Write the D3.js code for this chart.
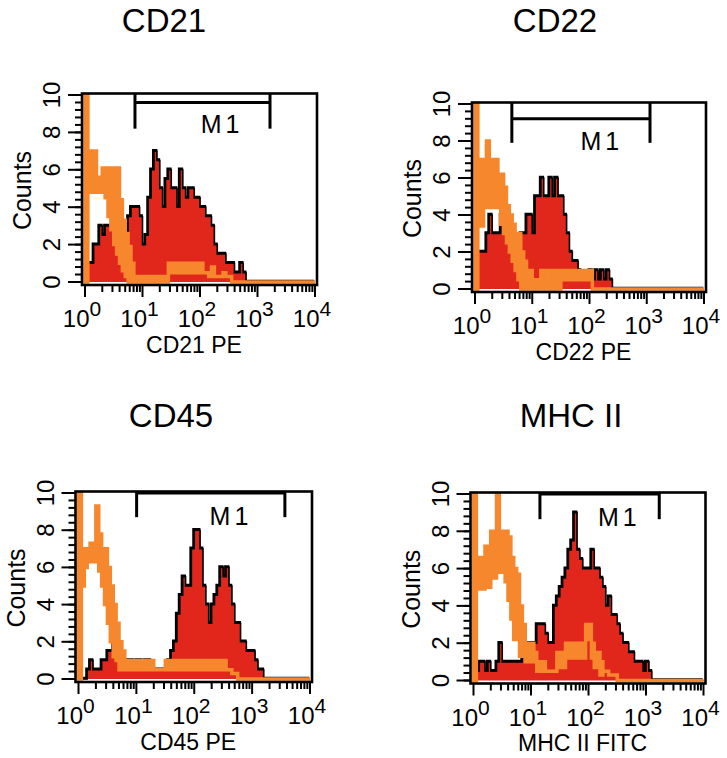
<!DOCTYPE html>
<html><head><meta charset="utf-8">
<script src="https://cdn.jsdelivr.net/npm/d3@7"></script>
<style>body{margin:0;background:#fff} svg{display:block}</style>
</head><body>
<svg id="c" width="727" height="758"></svg>
<script>
// ---------- data ----------
const binsPerDecade = 20;          // histogram channels per log decade (80 bins over 10^0..10^4)
const decades = [0, 1, 2, 3, 4];
const countTicks = [0, 2, 4, 6, 8, 10];
const panelTitles = ["CD21", "CD22", "CD45", "MHC II"];
const axisTitles = ["CD21 PE", "CD22 PE", "CD45 PE", "MHC II FITC"];
const yAxisTitle = "Counts";
const gateName = "M1";

const cd21Sample = [0,1,1,2,2,3,2.5,3,3,3, 3.5,3,2.5,2,2,3.5,4,4,4,3.5, 2,2.5,4.5,6,7,6.5,5,4,5.5,6,
  5,5,4,6,5,4.5,5,5,4.5,4.5, 4,4,3.5,3.5,3,2,1.5,1.5,1.5,1, 1,1,0.5,0.5,1,0.5,0,0,0,0,
  0,0,0,0,0,0,0,0,0,0, 0,0,0,0,0,0,0,0,0,0];
const cd21CtrlHigh = [10.5,7,7,7,5.6,5.6,6.1,5.7,6.1,5.6, 6.1,6.1,4.4,3.3,2.6,1.9,1,0.3,0.3,0.3,
  0.3,0.3,0.3,0.3,0.3,0.3,0.3,0.3,0.3,1, 0.5,1,0.5,1,1,0.5,1,0.5,1,0.5, 1,0.5,0.5,0.3,0.8,0.3,0.3,0.3,0.5,0.3,
  0.3,0,0,0,0,0,0,0,0,0, 0,0,0,0,0,0,0,0,0,0, 0,0,0,0,0,0,0,0,0,0];
const cd21CtrlLow = [0,4.8,4.8,4.8,4.8,4.8,4.8,4.5,3.5,2.8, 2,1.5,1,0.6,0.3,0,0,0,0,0,
  0,0,0,0,0,0,0,0,0,0.5, 0.5,0.5,0.5,0.5,0.5,0.5,0.5,0.5,0.5,0.5, 0.5,0.5,0.5,0.3,0.5,0.3,0.3,0.3,0.5,0.3,
  0.3,0,0,0,0,0,0,0,0,0, 0,0,0,0,0,0,0,0,0,0, 0,0,0,0,0,0,0,0,0,0];

const cd22Sample = [0,2,2,2,3,4,3,3,3,4, 4,3.5,3,2.5,2,1.5,3,3,4,4, 3,5,5,6,5,5,6,5,6,5,
  5,4,3,2,1.5,1.5,1,0.5,0.5,0.5, 1,0.5,1,0.5,1,0.5,1,0.5,0,0, 0,0,0,0,0,0,0,0,0,0,
  0,0,0,0,0,0,0,0,0,0, 0,0,0,0,0,0,0,0,0,0];
const cd22CtrlHigh = [10.5,7,7,7,8,7,7,7,6.2,6.2, 5.5,4.5,4,3.5,3,3,2,1.5,1,1, 0.5,0.5,0.5,1,1,0.5,1,1,0.5,1,
  1,1,1,1,1,1,1,1,1,1, 1,0,0,0,0,0,0,0,0,0, 0,0,0,0,0,0,0,0,0,0,
  0,0,0,0,0,0,0,0,0,0, 0,0,0,0,0,0,0,0,0,0];
const cd22CtrlLow = [0,3.4,3.4,4.4,4.4,4.4,4.4,4.4,4.4,3.5, 3,2.5,2,1.5,1,0.5,0,0,0,0, 0,0,0,0,0,0,0,0,0,0,
  0.5,0.5,0.5,0.5,0.5,0.5,0.5,0.5,0.5,0.5, 0.5,0,0,0,0,0,0,0,0,0, 0,0,0,0,0,0,0,0,0,0,
  0,0,0,0,0,0,0,0,0,0, 0,0,0,0,0,0,0,0,0,0];

const cd45Sample = [0,0,0,0.5,1,0.5,0.5,0.5,1,1, 1.5,1.5,2,1,0.5,0.5,1,1,1,0.5, 1,1,0.5,1,1,0.5,0.5,0.5,0.5,0.5,
  0.5,1,1.5,2,3.5,4.5,5.5,5,5,7, 8,8,7,5,4,3,4,4.5,5,6, 5.5,6,5,4,3,3,2,2,1.5,1.5,
  1.5,1,0.5,0.5,0,0,0,0,0,0, 0,0,0,0,0,0,0,0,0,0];
const cd45CtrlHigh = [10.5,7,7,7,7.3,7.3,9.3,7.8,7,7, 6,5,4,3,2,1.5,1,1,1,1, 1,1,1,1,1,1,0.5,0.5,0.5,0.5,
  1,0.5,1,0.5,1,0.5,1,0.5,1,0.5, 1,0.5,1,0.5,1,0.5,1,0.5,1,0.5, 1,0.5,0.5,0.3,0.3,0,0,0,0,0,
  0,0,0,0,0,0,0,0,0,0, 0,0,0,0,0,0,0,0,0,0];
const cd45CtrlLow = [0,5,6,6.3,6.3,6.3,6.3,5.8,5,4, 3,2,1.2,1,0.5,0.5,0.5,0.5,0.5,0.5, 0.5,0.5,0.5,0.5,0.5,0.5,0.5,0.5,0.5,0.5,
  0.5,0.5,0.5,0.5,0.5,0.5,0.5,0.5,0.5,0.5, 0.5,0.5,0.5,0.5,0.5,0.5,0.5,0.5,0.5,0.5, 0.5,0.5,0.5,0.3,0.3,0,0,0,0,0,
  0,0,0,0,0,0,0,0,0,0, 0,0,0,0,0,0,0,0,0,0];

const mhcSample = [0,0.5,1,1,0.5,1,0.5,0.5,1,2, 1,1,1,1,1,1,1,1.5,2,2, 2,2,3,3,3,2.5,2,2,4,4.5,
  5,5.5,6,7,7.5,9,7,6.5,6,6, 6,7,6,6,5.5,5,4,4.5,3.5,3.5, 3,2.5,2,2,1.5,1.5,1,1,1,0.5,
  1,0.5,0,0,0,0,0,0,0,0, 0,0,0,0,0,0,0,0,0,0];
const mhcCtrlHigh = [10.5,6.6,6.6,6.6,7.2,7.2,8,8,10.5,8, 8,8,7.7,6.6,6,5.7,4,3,2,2, 2,1.5,1,1,1,0.5,0.5,0.5,0.5,1.5,
  1.5,1.5,2,2,2,2,2,2,2,3, 3,2,1.5,1.5,1,0.5,0.5,0.3,0.3,0.3, 0,0,0,0,0,0,0,0,0,0,
  0,0,0,0,0,0,0,0,0,0, 0,0,0,0,0,0,0,0,0,0];
const mhcCtrlLow = [0,4.9,4.9,4.9,5,5,5.5,5.5,5.8,5.8, 5.8,5.3,4.3,3.3,2.2,2.2,1.3,1.3,1,1, 1,1,0.5,0.5,0.5,0.5,0.5,0.5,0.5,0.7,
  0.7,0.7,1.2,1.2,1.2,1.2,1.2,1.2,1.2,2.2, 2.2,1.2,0.7,0.7,0.3,0.5,0.5,0.3,0.3,0.3, 0,0,0,0,0,0,0,0,0,0,
  0,0,0,0,0,0,0,0,0,0, 0,0,0,0,0,0,0,0,0,0];

// M1 marker gates
const gateLow = [7.4, 4.4, 10.1, 14.3];
const gateHigh = [1650, 1140, 3680, 1700];
const gateLevel = [9.6, 9.2, 10, 10];
const gateTickEnd = [8.2, 7.9, 8.7, 8.65];
const gateLabelDecade = [2.35, 2.18, 2.6, 2.5];
const gateLabelCount = [7.95, 7.5, 8.3, 8.3];

// ---------- layout / style ----------
const layout = [
  {x0: 85,    x1: 315,   y0: 282,   y10: 95,  titleX: 164, titleY: 32},
  {x0: 475,   x1: 704,   y0: 289,   y10: 104, titleX: 555, titleY: 32},
  {x0: 78.5,  x1: 310,   y0: 679,   y10: 493, titleX: 171, titleY: 427},
  {x0: 473.5, x1: 703.5, y0: 680.5, y10: 494, titleX: 571, titleY: 427}
];
const RED = "#e1261c", ORANGE = "#f7872c";
const FONT = "'Liberation Sans', Arial, Helvetica, sans-serif";

const series = [
  {sample: cd21Sample, hi: cd21CtrlHigh, lo: cd21CtrlLow},
  {sample: cd22Sample, hi: cd22CtrlHigh, lo: cd22CtrlLow},
  {sample: cd45Sample, hi: cd45CtrlHigh, lo: cd45CtrlLow},
  {sample: mhcSample,  hi: mhcCtrlHigh,  lo: mhcCtrlLow}
];

const svg = d3.select("#c");
const defs = svg.append("defs");

series.forEach((s, k) => {
  const L = layout[k];
  const x = d3.scaleLog().domain([1, 1e4]).range([L.x0, L.x1]);
  const y = d3.scaleLinear().domain([0, 10]).range([L.y0, L.y10]);
  const fl = L.x0 - 3, fr = L.x1 + 2, ft = L.y10 - 1.5, fb = L.y0 + 3;
  const g = svg.append("g");

  defs.append("clipPath").attr("id", "clip" + k)
    .append("rect").attr("x", fl).attr("y", ft).attr("width", fr - fl).attr("height", fb - ft);
  const plot = g.append("g").attr("clip-path", `url(#clip${k})`);

  const edge = i => Math.pow(10, i / binsPerDecade);
  const n = s.sample.length;
  const samplePts = s.sample.map((v, i) => ({e: edge(i), v})).concat([{e: edge(n), v: s.sample[n - 1]}]);
  const ctrlPts = s.hi.map((v, i) => ({e: edge(i), hi: v, lo: s.lo[i]})).concat([{e: edge(n), hi: s.hi[n - 1], lo: s.lo[n - 1]}]);

  // stained sample: red filled histogram with black outline (slight upper-left shadow)
  const topLine = d3.line().x(d => x(d.e)).y(d => y(d.v)).curve(d3.curveStepAfter);
  plot.append("path").datum(samplePts)
    .attr("d", topLine).attr("transform", "translate(-0.8,-1)")
    .attr("fill", "none").attr("stroke", "#000").attr("stroke-width", 2.4);
  plot.append("path").datum(samplePts)
    .attr("d", d3.area().x(d => x(d.e)).y0(y(0)).y1(d => y(d.v)).curve(d3.curveStepAfter))
    .attr("fill", RED);
  plot.append("path").datum(samplePts)
    .attr("d", topLine)
    .attr("fill", "none").attr("stroke", "#000").attr("stroke-width", 1.6);

  // control: orange histogram band
  plot.append("path").datum(ctrlPts)
    .attr("d", d3.area().x(d => x(d.e)).y0(d => y(d.lo)).y1(d => y(d.hi)).curve(d3.curveStepAfter))
    .attr("fill", ORANGE).attr("stroke", ORANGE).attr("stroke-width", 3.5).attr("stroke-linejoin", "miter");

  // frame
  g.append("rect").attr("x", fl).attr("y", ft).attr("width", fr - fl).attr("height", fb - ft)
    .attr("fill", "none").attr("stroke", "#000").attr("stroke-width", 2.6);

  // M1 marker
  const gl = x(gateLow[k]), gh = x(gateHigh[k]);
  const mk = g.append("g").attr("stroke", "#000").attr("stroke-width", 3).attr("fill", "none");
  mk.append("line").attr("x1", gl).attr("x2", gh).attr("y1", y(gateLevel[k])).attr("y2", y(gateLevel[k]));
  [gl, gh].forEach(px => mk.append("line").attr("x1", px).attr("x2", px).attr("y1", ft).attr("y2", y(gateTickEnd[k])));
  g.append("text").attr("x", x(Math.pow(10, gateLabelDecade[k])) + 2).attr("y", y(gateLabelCount[k]))
    .attr("text-anchor", "middle").attr("font-family", FONT).attr("font-size", 25)
    .attr("letter-spacing", 4).text(gateName);

  // x ticks (log)
  const ax = g.append("g").attr("stroke", "#000").attr("stroke-width", 2);
  decades.forEach(d => {
    ax.append("line").attr("x1", x(Math.pow(10, d))).attr("x2", x(Math.pow(10, d)))
      .attr("y1", fb).attr("y2", fb + 12);
    if (d < 4) d3.range(2, 10).forEach(m => {
      const px = x(m * Math.pow(10, d));
      ax.append("line").attr("x1", px).attr("x2", px).attr("y1", fb).attr("y2", fb + 7);
    });
    const t = g.append("text").attr("x", x(Math.pow(10, d)) - 3).attr("y", L.y0 + 45)
      .attr("text-anchor", "middle").attr("font-family", FONT).attr("font-size", 24);
    t.append("tspan").text("10");
    t.append("tspan").attr("dy", -11).attr("font-size", 21).text(d);
  });
  g.append("text").attr("x", (L.x0 + L.x1) / 2 - 6).attr("y", L.y0 + 70.5)
    .attr("text-anchor", "middle").attr("font-family", FONT).attr("font-size", 23).text(axisTitles[k]);

  // y ticks
  const ay = g.append("g").attr("stroke", "#000").attr("stroke-width", 2);
  d3.range(0, 10.001, 0.4).forEach(v => {
    ay.append("line").attr("x1", fl).attr("x2", fl - 7).attr("y1", y(v)).attr("y2", y(v));
  });
  countTicks.forEach(v => {
    ay.append("line").attr("x1", fl).attr("x2", fl - 14).attr("y1", y(v)).attr("y2", y(v));
    g.append("text").attr("transform", `translate(${L.x0 - 25},${y(v)}) rotate(-90)`)
      .attr("text-anchor", "middle").attr("font-family", FONT).attr("font-size", 24).text(v);
  });
  g.append("text").attr("transform", `translate(${L.x0 - 54},${(L.y0 + L.y10) / 2 + 2}) rotate(-90)`)
    .attr("text-anchor", "middle").attr("font-family", FONT).attr("font-size", 25).text(yAxisTitle);

  // title
  g.append("text").attr("x", L.titleX).attr("y", L.titleY).attr("text-anchor", "middle")
    .attr("font-family", FONT).attr("font-size", 33).text(panelTitles[k]);
});
</script>
</body></html>
